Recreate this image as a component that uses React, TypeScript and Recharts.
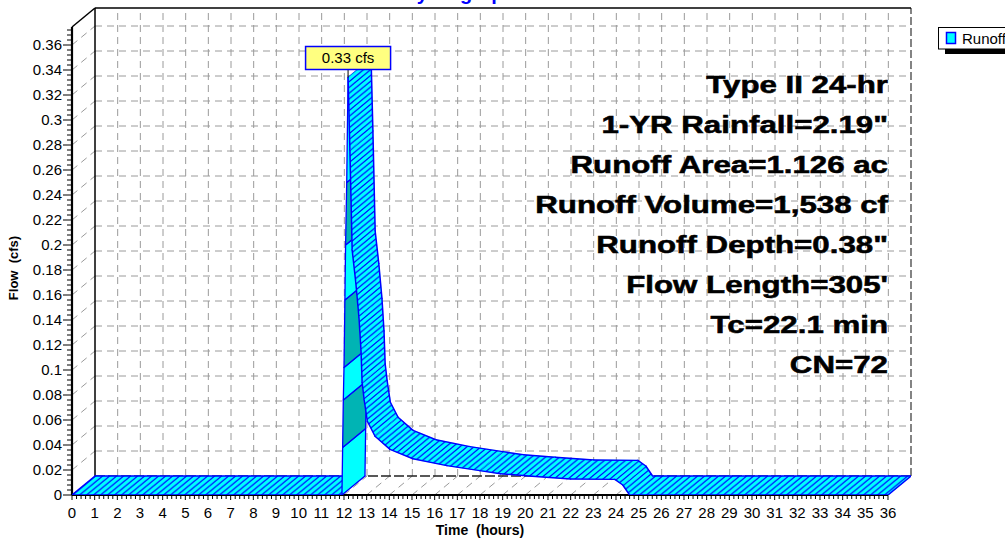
import React from 'react';
import { ComposedChart, Line, XAxis, YAxis, ReferenceLine } from 'recharts';

// ---------- data ----------
const TIME_H = [0, 11.91, 11.94, 11.97, 12.0, 12.04, 12.07, 12.12, 12.18, 12.26, 12.36, 12.52, 12.66, 12.75, 12.8, 12.89, 13.03, 13.37, 14.03, 15.04, 16.54, 17.99, 18.9, 20.3, 22.0, 23.95, 24.3, 24.6, 36];
const FLOW_CFS = [0, 0, 0.038, 0.076, 0.102, 0.156, 0.2, 0.25, 0.334, 0.276, 0.196, 0.17, 0.142, 0.116, 0.09, 0.076, 0.059, 0.047, 0.0365, 0.029, 0.0235, 0.0195, 0.017, 0.015, 0.0128, 0.0125, 0.008, 0, 0];

const X_LABEL_TICKS = [0, 1, 2, 3, 4, 5, 6, 7, 8, 9, 10, 11, 12, 13, 14, 15, 16, 17, 18, 19, 20, 21, 22, 23, 24, 25, 26, 27, 28, 29, 30, 31, 32, 33, 34, 35, 36];
const Y_LABEL_TICKS = [0, 0.02, 0.04, 0.06, 0.08, 0.1, 0.12, 0.14, 0.16, 0.18, 0.2, 0.22, 0.24, 0.26, 0.28, 0.3, 0.32, 0.34, 0.36];

const INFO_LINES = [
  'Type II 24-hr',
  '1-YR Rainfall=2.19"',
  'Runoff Area=1.126 ac',
  'Runoff Volume=1,538 cf',
  'Runoff Depth=0.38"',
  "Flow Length=305'",
  'Tc=22.1 min',
  'CN=72',
];

const TITLE = 'Hydrograph';
const SERIES_NAME = 'Runoff';
const UNIT = 'cfs';

// ---------- 3D frame (style) ----------
const X_MAX = 36;
const Y_MAX = 0.3744;
const DEPTH_H = 1.015; // depth offset expressed in hours
const DEPTH_CFS = 0.0152; // depth offset expressed in cfs

const W = 1005;
const H = 539;
const FONT = '"Liberation Sans", Arial, Helvetica, sans-serif';
const CYAN = '#00FFFF';
const TEAL = '#00B4B4';
const BLUE = '#0000FF';
const GRID = '#9a9a9a';
const DASH = '7 5';

const X_TICKS = Array.from({ length: 181 }, (_, i) => +(i * 0.2).toFixed(1));
const Y_TICKS = Array.from({ length: 94 }, (_, i) => +(i * 0.004).toFixed(3));

const isXLabel = (v: number) => X_LABEL_TICKS.some((t) => Math.abs(t - v) < 1e-9);
const isYLabel = (v: number) => Y_LABEL_TICKS.some((t) => Math.abs(t - v) < 1e-9);

const N = TIME_H.length;
const ribbonRows = [
  ...TIME_H.map((t, i) => ({ x: t, y: FLOW_CFS[i] })),
  ...TIME_H.map((t, i) => ({ x: t + DEPTH_H, y: FLOW_CFS[i] + DEPTH_CFS })),
];

const collected: { x: number; y: number }[] = [];

function RibbonDot(props: any) {
  const { cx, cy, index } = props;
  collected[index] = { x: cx, y: cy };
  if (index !== 2 * N - 1) return <g key={`rd${index}`} />;
  const front = collected.slice(0, N);
  const back = collected.slice(N, 2 * N);
  const d = { x: back[0].x - front[0].x, y: back[0].y - front[0].y };
  const hw = 7;
  const hh = (hw * -d.y) / d.x;
  const els: any[] = [];
  let bf = 0;
  for (let i = 0; i < N - 1; i++) {
    const f1 = front[i];
    const f2 = front[i + 1];
    const b1 = back[i];
    const b2 = back[i + 1];
    const pts = `${f1.x},${f1.y} ${f2.x},${f2.y} ${b2.x},${b2.y} ${b1.x},${b1.y}`;
    const ex = f2.x - f1.x;
    const ey = f2.y - f1.y;
    const cross = ex * d.y - ey * d.x;
    if (cross > 0) {
      const fill = bf % 2 === 1 ? TEAL : CYAN;
      bf++;
      els.push(<polygon key={`q${i}`} points={pts} fill={fill} stroke={BLUE} strokeWidth={1.3} strokeLinejoin="round" />);
    } else {
      els.push(<polygon key={`q${i}`} points={pts} fill={CYAN} stroke={CYAN} strokeWidth={0.5} />);
      els.push(<polygon key={`h${i}`} points={pts} fill="url(#ribbonHatch)" stroke="none" />);
      els.push(<line key={`f${i}`} x1={f1.x} y1={f1.y} x2={f2.x} y2={f2.y} stroke={BLUE} strokeWidth={1.5} strokeLinecap="round" />);
      els.push(<line key={`b${i}`} x1={b1.x} y1={b1.y} x2={b2.x} y2={b2.y} stroke={BLUE} strokeWidth={1.5} strokeLinecap="round" />);
      if (i === 0) els.push(<line key={`s${i}`} x1={f1.x} y1={f1.y} x2={b1.x} y2={b1.y} stroke={BLUE} strokeWidth={1.5} />);
      if (i === N - 2) els.push(<line key={`e${i}`} x1={f2.x} y1={f2.y} x2={b2.x} y2={b2.y} stroke={BLUE} strokeWidth={1.5} />);
    }
  }
  // peak label
  let pk = 0;
  FLOW_CFS.forEach((v, i) => {
    if (v > FLOW_CFS[pk]) pk = i;
  });
  const p = front[pk];
  const bw = 85;
  const bh = 23;
  const gap = 8;
  return (
    <g key="ribbon">
      <defs>
        <pattern id="ribbonHatch" patternUnits="userSpaceOnUse" width={hw} height={hh}>
          <line x1={-hw} y1={2 * hh} x2={2 * hw} y2={-hh} stroke={BLUE} strokeWidth={1.2} />
          <line x1={-2 * hw} y1={2 * hh} x2={hw} y2={-hh} stroke={BLUE} strokeWidth={1.2} />
          <line x1={0} y1={2 * hh} x2={3 * hw} y2={-hh} stroke={BLUE} strokeWidth={1.2} />
        </pattern>
      </defs>
      {els}
      <line x1={p.x} y1={p.y - gap} x2={p.x} y2={p.y} stroke="#000" strokeWidth={1} />
      <rect x={p.x - bw / 2} y={p.y - gap - bh} width={bw} height={bh} fill="#FFFF80" stroke={BLUE} strokeWidth={1.5} />
      <text x={p.x} y={p.y - gap - bh / 2} dy="0.36em" textAnchor="middle" fontSize={15} fontFamily={FONT} fill="#000">
        {`${FLOW_CFS[pk].toFixed(2)} ${UNIT}`}
      </text>
    </g>
  );
}

function YTick(props: any) {
  const { x, y, payload } = props;
  const v = payload.value;
  const lab = isYLabel(v);
  return (
    <g>
      <line x1={x - (lab ? 9 : 5)} y1={y} x2={x} y2={y} stroke="#000" strokeWidth={1} />
      {lab && (
        <text x={x - 10} y={y} dy="0.36em" textAnchor="end" fontSize={15} fontFamily={FONT} fill="#000">
          {String(+v.toFixed(2))}
        </text>
      )}
    </g>
  );
}

function XTick(props: any) {
  const { x, y, payload } = props;
  const v = payload.value;
  const lab = isXLabel(v);
  return (
    <g>
      <line x1={x} y1={y} x2={x} y2={y + (lab ? 5 : 4)} stroke="#000" strokeWidth={1} />
      {lab && (
        <text x={x} y={y + 23} textAnchor="middle" fontSize={15} fontFamily={FONT} fill="#000">
          {String(v)}
        </text>
      )}
    </g>
  );
}

function frameLines() {
  const els: any[] = [];
  const seg = (key: string, a: [number, number], b: [number, number], stroke: string, width: number, dash?: string) =>
    els.push(
      <ReferenceLine
        key={key}
        segment={[{ x: a[0], y: a[1] }, { x: b[0], y: b[1] }]}
        stroke={stroke}
        strokeWidth={width}
        strokeDasharray={dash}
        ifOverflow="visible"
        isFront={false}
      />
    );
  Y_LABEL_TICKS.filter((v) => v > 0).forEach((v) => {
    seg(`bh${v}`, [DEPTH_H, v + DEPTH_CFS], [X_MAX + DEPTH_H, v + DEPTH_CFS], GRID, 1, DASH);
    seg(`lw${v}`, [0, v], [DEPTH_H, v + DEPTH_CFS], GRID, 1, DASH);
  });
  X_LABEL_TICKS.filter((h) => h > 0 && h < X_MAX).forEach((h) => {
    seg(`bv${h}`, [h + DEPTH_H, DEPTH_CFS], [h + DEPTH_H, Y_MAX + DEPTH_CFS], GRID, 1, DASH);
    seg(`fl${h}`, [h, 0], [h + DEPTH_H, DEPTH_CFS], GRID, 1, DASH);
  });
  seg('backFloor', [DEPTH_H, DEPTH_CFS], [X_MAX + DEPTH_H, DEPTH_CFS], '#222', 1.5, '10 3');
  seg('backRight', [X_MAX + DEPTH_H, DEPTH_CFS], [X_MAX + DEPTH_H, Y_MAX + DEPTH_CFS], '#333', 1.2, '8 3');
  seg('backLeft', [DEPTH_H, DEPTH_CFS], [DEPTH_H, Y_MAX + DEPTH_CFS], '#000', 1.5);
  seg('backTop', [DEPTH_H, Y_MAX + DEPTH_CFS], [X_MAX + DEPTH_H, Y_MAX + DEPTH_CFS], '#000', 1.5);
  seg('wallTop', [0, Y_MAX], [DEPTH_H, Y_MAX + DEPTH_CFS], '#000', 1.5);
  seg('yAxis', [0, 0], [0, Y_MAX], '#000', 2.2);
  seg('xAxis', [0, 0], [X_MAX, 0], '#000', 2.2);
  return els;
}

function Overlay() {
  return (
    <svg width={W} height={H} style={{ position: 'absolute', left: 0, top: 0, pointerEvents: 'none' }}>
      <text x={459} y={0} textAnchor="middle" fontSize={20} fontWeight="bold" fontFamily={FONT} fill={BLUE}>
        {TITLE}
      </text>
      {INFO_LINES.map((s, i) => (
        <text
          key={s}
          transform={`translate(888 ${93 + 40 * i}) scale(1.33 1)`}
          textAnchor="end"
          fontSize={23.5}
          fontWeight="bold"
          fontFamily={FONT}
          fill="#000"
          stroke="#000"
          strokeWidth={0.55}
        >
          {s}
        </text>
      ))}
      <rect x={945} y={32} width={70} height={22} fill="#000" />
      <rect x={938.5} y={27.5} width={80} height={21.5} fill="#fff" stroke="#000" strokeWidth={1} />
      <rect x={946.5} y={32.5} width={9} height={11} fill={CYAN} stroke={BLUE} strokeWidth={1.5} />
      <text x={962} y={43.5} fontSize={15} fontFamily={FONT} fill="#000">
        {SERIES_NAME}
      </text>
      <text
        transform="translate(18 268) rotate(-90)"
        textAnchor="middle"
        fontSize={13}
        fontWeight="bold"
        fontFamily={FONT}
        fill="#000"
        style={{ whiteSpace: 'pre' }}
      >
        {'Flow  (cfs)'}
      </text>
      <text x={480} y={535} textAnchor="middle" fontSize={14} fontWeight="bold" fontFamily={FONT} fill="#000" style={{ whiteSpace: 'pre' }}>
        {'Time  (hours)'}
      </text>
    </svg>
  );
}

export default function App() {
  return (
    <div style={{ position: 'absolute', left: 0, top: 0, width: W, height: H, background: '#fff', overflow: 'hidden' }}>
      <ComposedChart width={W} height={H} margin={{ top: 8, right: 94, bottom: 0, left: 0 }}>
        <XAxis
          type="number"
          dataKey="x"
          domain={[0, X_MAX + DEPTH_H]}
          ticks={X_TICKS}
          interval={0}
          tick={XTick}
          tickSize={0}
          tickMargin={0}
          tickLine={false}
          axisLine={false}
          height={44}
          allowDataOverflow
        />
        <YAxis
          type="number"
          dataKey="y"
          domain={[0, Y_MAX + DEPTH_CFS]}
          ticks={Y_TICKS}
          interval={0}
          tick={YTick}
          tickSize={0}
          tickMargin={0}
          tickLine={false}
          axisLine={false}
          width={72}
          allowDataOverflow
        />
        {frameLines()}
        <Line
          data={ribbonRows}
          dataKey="y"
          stroke="none"
          dot={RibbonDot}
          activeDot={false}
          isAnimationActive={false}
          legendType="none"
        />
      </ComposedChart>
      <Overlay />
    </div>
  );
}
